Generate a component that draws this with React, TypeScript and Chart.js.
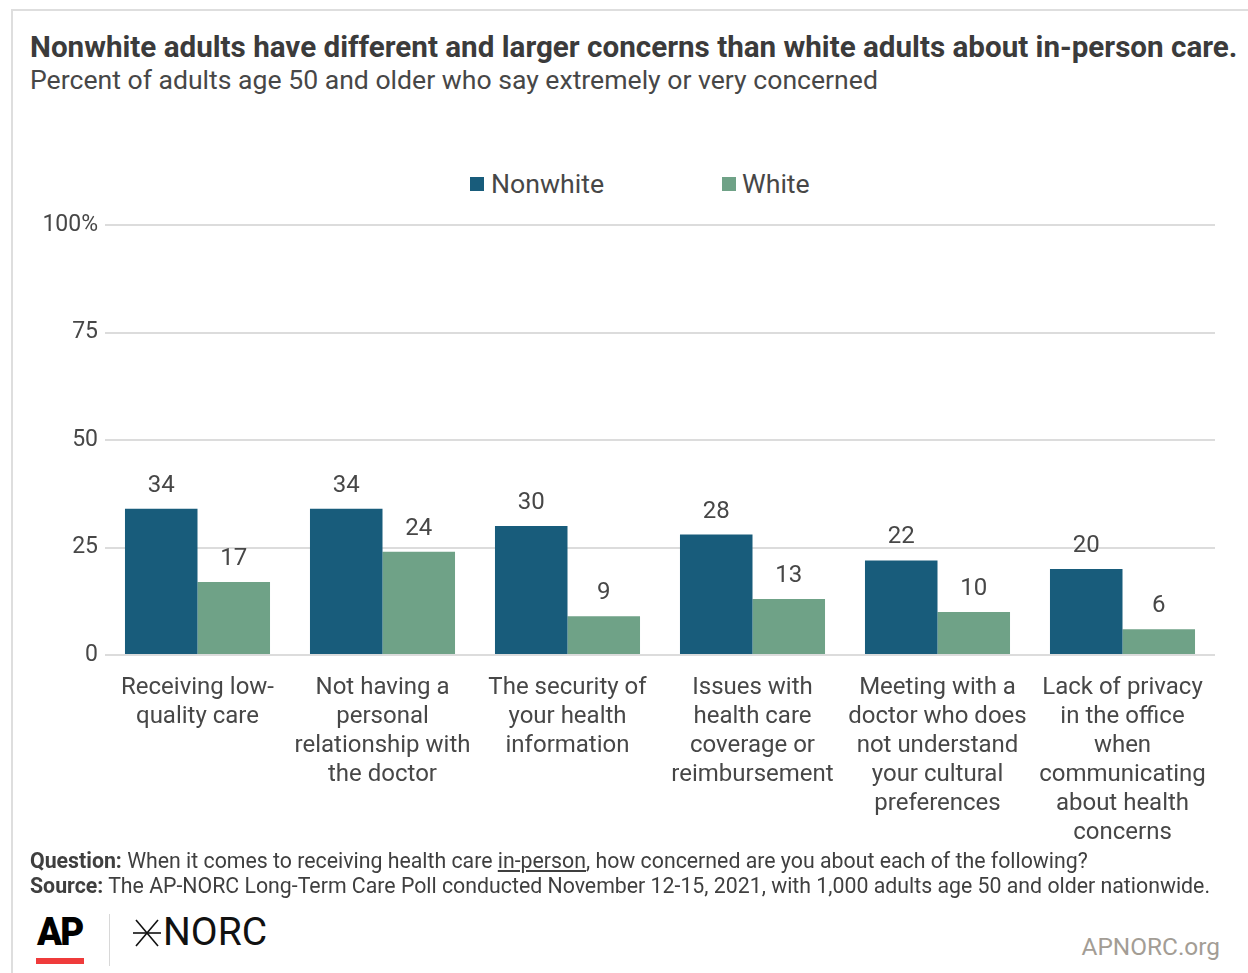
import React, { useEffect, useRef } from "react";
import { Chart, registerables } from "chart.js";

Chart.register(...registerables);

const categories: string[][] = [
  ["Receiving low-", "quality care"],
  ["Not having a", "personal", "relationship with", "the doctor"],
  ["The security of", "your health", "information"],
  ["Issues with", "health care", "coverage or", "reimbursement"],
  ["Meeting with a", "doctor who does", "not understand", "your cultural", "preferences"],
  ["Lack of privacy", "in the office", "when", "communicating", "about health", "concerns"],
];
const nonwhiteValues = [34, 34, 30, 28, 22, 20];
const whiteValues = [17, 24, 9, 13, 10, 6];
const yTicks = [0, 25, 50, 75, 100];

const NONWHITE = "#185c7b";
const WHITE = "#6fa287";
const TEXT = "#474747";
const FONT = "Roboto, 'Noto Sans', sans-serif";

const CANVAS_TOP = 202;
const CANVAS_H = 648;

const labelPlugin = {
  id: "valueLabels",
  afterDatasetsDraw(chart: any) {
    const ctx = chart.ctx;
    ctx.save();
    ctx.font = `24px ${FONT}`;
    ctx.fillStyle = TEXT;
    ctx.textAlign = "center";
    ctx.textBaseline = "middle";
    chart.data.datasets.forEach((ds: any, i: number) => {
      const meta = chart.getDatasetMeta(i);
      meta.data.forEach((bar: any, j: number) => {
        ctx.fillText(String(ds.data[j]), bar.x, bar.y - 23);
      });
    });
    ctx.restore();
  },
};

function BarChart() {
  const ref = useRef<HTMLCanvasElement>(null);
  useEffect(() => {
    if (!ref.current) return;
    const chart = new Chart(ref.current, {
      type: "bar",
      data: {
        labels: categories,
        datasets: [
          { label: "Nonwhite", data: nonwhiteValues, backgroundColor: NONWHITE },
          { label: "White", data: whiteValues, backgroundColor: WHITE },
        ],
      },
      options: {
        animation: false,
        responsive: false,
        maintainAspectRatio: false,
        layout: { padding: { top: 23, left: 0, right: 33, bottom: 0 } },
        datasets: {
          bar: { categoryPercentage: 0.784, barPercentage: 1 },
        } as any,
        plugins: {
          legend: { display: false },
          tooltip: { enabled: false },
        },
        scales: {
          x: {
            grid: { display: false },
            border: { display: false },
            ticks: {
              color: TEXT,
              font: { family: FONT, size: 24, lineHeight: 1.21 } as any,
              padding: 10,
              maxRotation: 0,
              autoSkip: false,
            },
            afterFit(scale: any) {
              scale.height = CANVAS_H - 453;
            },
          },
          y: {
            min: 0,
            max: 100,
            afterBuildTicks(scale: any) {
              scale.ticks = yTicks.map((v) => ({ value: v }));
            },
            grid: { color: "#dcdcdc", lineWidth: 2, drawTicks: false },
            border: { display: false },
            ticks: {
              color: TEXT,
              font: { family: FONT, size: 23 },
              padding: 7,
              callback: (v: any) => (v === 100 ? "100%" : String(v)),
            },
            afterFit(scale: any) {
              scale.width = 105;
            },
          },
        },
      },
      plugins: [labelPlugin],
    });
    return () => chart.destroy();
  }, []);
  return (
    <canvas
      ref={ref}
      width={1248}
      height={CANVAS_H}
      style={{ position: "absolute", left: 0, top: CANVAS_TOP, width: 1248, height: CANVAS_H }}
    />
  );
}

export default function App() {
  return (
    <div
      style={{
        position: "fixed",
        left: 0,
        top: 0,
        width: 1248,
        height: 973,
        background: "#fff",
        fontFamily: FONT,
        overflow: "hidden",
      }}
    >
      <div
        style={{
          position: "absolute",
          left: 11,
          top: 9,
          width: 1300,
          height: 1000,
          borderTop: "2px solid #dedede",
          borderLeft: "2px solid #dedede",
        }}
      />
      <div
        style={{
          position: "absolute",
          left: 30,
          top: 29,
          fontSize: 29.6,
          fontWeight: 700,
          color: "#3b3b3b",
          whiteSpace: "nowrap",
          lineHeight: "36px",
        }}
      >
        Nonwhite adults have different and larger concerns than white adults about in-person care.
      </div>
      <div
        style={{
          position: "absolute",
          left: 30,
          top: 63,
          fontSize: 26.6,
          color: TEXT,
          whiteSpace: "nowrap",
          lineHeight: "34px",
        }}
      >
        Percent of adults age 50 and older who say extremely or very concerned
      </div>
      {/* legend */}
      <div style={{ position: "absolute", left: 470, top: 177, width: 14, height: 14, background: NONWHITE }} />
      <div style={{ position: "absolute", left: 491, top: 168, fontSize: 26.7, color: TEXT, lineHeight: "33px" }}>
        Nonwhite
      </div>
      <div style={{ position: "absolute", left: 722, top: 177, width: 14, height: 14, background: WHITE }} />
      <div style={{ position: "absolute", left: 742, top: 168, fontSize: 26.7, color: TEXT, lineHeight: "33px" }}>
        White
      </div>
      <BarChart />
      {/* footer */}
      <div
        style={{
          position: "absolute",
          left: 30,
          top: 848,
          fontSize: 21.3,
          color: "#3f3f3f",
          whiteSpace: "nowrap",
          lineHeight: "25px",
        }}
      >
        <b>Question:</b> When it comes to receiving health care <u>in-person</u>, how concerned are you about each of the
        following?
        <br />
        <b>Source:</b> The AP-NORC Long-Term Care Poll conducted November 12-15, 2021, with 1,000 adults age 50 and older
        nationwide.
      </div>
      {/* AP logo */}
      <div
        style={{
          position: "absolute",
          left: 37,
          top: 910,
          fontSize: 38,
          fontWeight: 900,
          color: "#000",
          lineHeight: "44px",
          letterSpacing: -2,
          transform: "scaleX(0.97)",
          transformOrigin: "left",
        }}
      >
        AP
      </div>
      <div style={{ position: "absolute", left: 36, top: 958, width: 48, height: 6, background: "#ef3b3b" }} />
      <div style={{ position: "absolute", left: 109, top: 914, width: 1, height: 52, background: "#d8d8d8" }} />
      {/* NORC logo */}
      <svg style={{ position: "absolute", left: 132, top: 918 }} width={30} height={30} viewBox="0 0 30 30">
        <line x1="4" y1="2" x2="26" y2="28" stroke="#111" strokeWidth="1.6" />
        <line x1="26" y1="2" x2="4" y2="28" stroke="#111" strokeWidth="1.6" />
        <line x1="1" y1="15" x2="29" y2="15" stroke="#111" strokeWidth="1.6" />
      </svg>
      <div
        style={{
          position: "absolute",
          left: 163,
          top: 910,
          fontSize: 39,
          fontWeight: 400,
          color: "#111",
          lineHeight: "44px",
        }}
      >
        NORC
      </div>
      <div
        style={{
          position: "absolute",
          right: 28,
          top: 932,
          fontSize: 24.4,
          color: "#a39d95",
          lineHeight: "30px",
        }}
      >
        APNORC.org
      </div>
    </div>
  );
}
